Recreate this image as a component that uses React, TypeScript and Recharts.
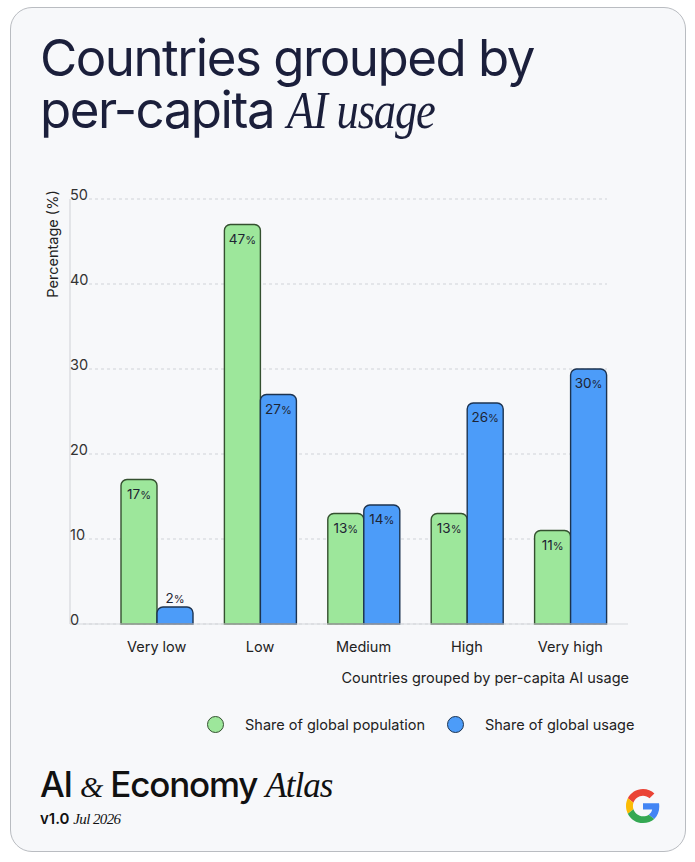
import { BarChart, Bar, XAxis, YAxis, CartesianGrid, LabelList } from "recharts";

const categories = ["Very low", "Low", "Medium", "High", "Very high"];
const populationShare = [17, 47, 13, 13, 11];
const usageShare = [2, 27, 14, 26, 30];
const yTicks = [0, 10, 20, 30, 40, 50];

const seriesKeys = ["population", "usage"];
const seriesNames = ["Share of global population", "Share of global usage"];
const seriesFills = ["#9de79b", "#4c9cf9"];
const seriesStrokes = ["#34502f", "#1c3350"];

const data = categories.map((name, i) => ({
  name,
  population: populationShare[i],
  usage: usageShare[i],
}));

const SANS = "Inter, 'Noto Sans', sans-serif";
const SERIF = "'Liberation Serif', 'DejaVu Serif', serif";
const INK = "#1b1f3b";

function PercentLabel(props: any) {
  const { x, y, width, height, value } = props;
  const inside = height > 28;
  return (
    <text
      x={x + width / 2}
      y={inside ? y + 19 : y - 4}
      textAnchor="middle"
      fill="#1d2433"
      fontSize={13.5}
      fontFamily={SANS}
    >
      {value}
      <tspan fontSize={11}>%</tspan>
    </text>
  );
}

function YTick(props: any) {
  const { x, y, payload } = props;
  return (
    <text x={x} y={y + 1} textAnchor="start" fill="#333" fontSize={14.5} fontFamily={SANS}>
      {payload.value}
    </text>
  );
}

function XTick(props: any) {
  const { x, y, payload } = props;
  return (
    <text x={x} y={y + 20} textAnchor="middle" fill="#222" fontSize={14.5} fontFamily={SANS}>
      {payload.value}
    </text>
  );
}

function GoogleG() {
  return (
    <svg width="34" height="34" viewBox="0 0 48 48">
      <path fill="#EA4335" d="M24 9.5c3.54 0 6.71 1.22 9.21 3.6l6.85-6.85C35.9 2.38 30.47 0 24 0 14.62 0 6.51 5.38 2.56 13.22l7.98 6.19C12.43 13.72 17.74 9.5 24 9.5z" />
      <path fill="#4285F4" d="M46.98 24.55c0-1.57-.15-3.09-.38-4.55H24v9.02h12.94c-.58 2.96-2.26 5.48-4.78 7.18l7.73 6c4.51-4.18 7.09-10.36 7.09-17.65z" />
      <path fill="#FBBC05" d="M10.53 28.59c-.48-1.45-.76-2.99-.76-4.59s.27-3.14.76-4.59l-7.98-6.19C.92 16.46 0 20.12 0 24c0 3.88.92 7.54 2.56 10.78l7.97-6.19z" />
      <path fill="#34A853" d="M24 48c6.48 0 11.93-2.13 15.89-5.81l-7.73-6c-2.15 1.45-4.92 2.3-8.16 2.3-6.26 0-11.57-4.22-13.47-9.91l-7.98 6.19C6.51 42.62 14.62 48 24 48z" />
    </svg>
  );
}

export default function App() {
  return (
    <div style={{ position: "absolute", left: 0, top: 0, width: 695, height: 862, background: "#fff" }}>
      {/* card */}
      <div
        style={{
          position: "absolute",
          left: 10,
          top: 7,
          width: 674,
          height: 843,
          border: "1px solid #b9bcc1",
          borderRadius: 22,
          background: "#f7f8fa",
        }}
      />

      {/* heading */}
      <div
        style={{
          position: "absolute",
          left: 40,
          top: 32,
          fontFamily: SANS,
          fontSize: 51,
          lineHeight: "52px",
          letterSpacing: -1.5,
          color: INK,
          whiteSpace: "nowrap",
        }}
      >
        <div>Countries grouped by</div>
        <div>
          per-capita{" "}
          <span
            style={{
              display: "inline-block",
              fontFamily: SERIF,
              fontStyle: "italic",
              letterSpacing: -1.4,
              fontSize: 53,
              transform: "scaleX(0.84)",
              transformOrigin: "left bottom",
            }}
          >
            AI usage
          </span>
        </div>
      </div>

      <div style={{ position: "absolute", left: 0, top: 0 }}>
        <BarChart
          width={695}
          height={760}
          data={data}
          margin={{ top: 199, right: 67, left: 70, bottom: 106 }}
          barGap={0}
          barSize={36}
        >
          <CartesianGrid
            vertical={false}
            horizontal={(p: any) => (
              <line
                key={`grid-${p.index}`}
                x1={p.x1 + 13}
                x2={p.x2 - 21}
                y1={p.y1}
                y2={p.y2}
                stroke="#d0d3d8"
                strokeDasharray="3 3"
              />
            )}
          />
          <XAxis
            dataKey="name"
            height={30}
            padding={{ left: 35, right: 6 }}
            tickLine={false}
            axisLine={{ stroke: "#d5d8dc", strokeWidth: 1.2 }}
            tick={<XTick />}
            label={(p: any) => {
              const vb = p.viewBox;
              return (
                <text
                  x={vb.x + vb.width + 1}
                  y={vb.y + 59}
                  textAnchor="end"
                  fill="#222"
                  fontSize={14.5}
                  fontFamily={SANS}
                >
                  Countries grouped by per-capita AI usage
                </text>
              );
            }}
          />
          <YAxis
            mirror
            width={40}
            domain={[0, 50]}
            ticks={yTicks}
            interval={0}
            tickLine={false}
            tickSize={0}
            tickMargin={0}
            axisLine={{ stroke: "#d5d8dc", strokeWidth: 1.2 }}
            tick={<YTick />}
          />
          {seriesKeys.map((key, i) => (
            <Bar
              key={key}
              dataKey={key}
              name={seriesNames[i]}
              fill={seriesFills[i]}
              stroke={seriesStrokes[i]}
              strokeWidth={1.4}
              radius={[6, 6, 0, 0]}
              isAnimationActive={false}
            >
              <LabelList dataKey={key} content={<PercentLabel />} />
            </Bar>
          ))}
        </BarChart>
      </div>

      {/* y-axis title */}
      <div
        style={{
          position: "absolute",
          left: 52,
          top: 244,
          transform: "translate(-50%, -50%) rotate(-90deg)",
          fontFamily: SANS,
          fontSize: 14.5,
          color: "#222",
          whiteSpace: "nowrap",
        }}
      >
        Percentage (%)
      </div>

      {/* legend */}
      <div style={{ position: "absolute", left: 207, top: 716, display: "flex", fontFamily: SANS, fontSize: 14.5, color: "#222" }}>
        {seriesNames.map((name, i) => (
          <div key={name} style={{ display: "flex", alignItems: "center", marginRight: 22 }}>
            <span
              style={{
                width: 15,
                height: 15,
                borderRadius: "50%",
                background: seriesFills[i],
                border: `1.3px solid ${seriesStrokes[i]}`,
                marginRight: 21,
              }}
            />
            <span>{name}</span>
          </div>
        ))}
      </div>

      {/* footer */}
      <div style={{ position: "absolute", left: 40, top: 764, fontFamily: SANS, color: "#111", whiteSpace: "nowrap" }}>
        <div style={{ fontSize: 35, lineHeight: "40px", letterSpacing: -1.2, fontWeight: 500 }}>
          AI <span style={{ fontFamily: SERIF, fontStyle: "italic", fontWeight: 400, fontSize: 30 }}>&amp;</span> Economy{" "}
          <span style={{ fontFamily: SERIF, fontStyle: "italic", fontWeight: 400, letterSpacing: -1 }}>Atlas</span>
        </div>
        <div style={{ fontSize: 15, lineHeight: "20px", fontWeight: 600, marginTop: 2 }}>
          v1.0{" "}
          <span style={{ fontFamily: SERIF, fontStyle: "italic", fontWeight: 400, fontSize: 15, letterSpacing: -0.6 }}>
            Jul 2026
          </span>
        </div>
      </div>

      <div style={{ position: "absolute", left: 626, top: 789 }}>
        <GoogleG />
      </div>
    </div>
  );
}
